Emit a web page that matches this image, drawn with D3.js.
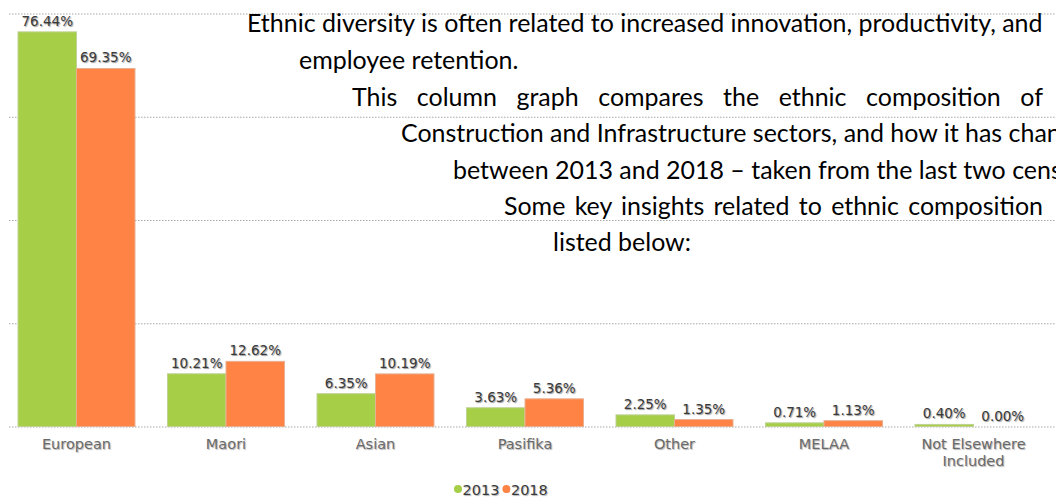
<!DOCTYPE html>
<html>
<head>
<meta charset="utf-8">
<script src="https://cdn.jsdelivr.net/npm/d3@7"></script>
<style>
  html, body { margin: 0; padding: 0; background: #fff; overflow: hidden; }
  svg { display: block; }
  .val { font-family: "DejaVu Sans", Verdana, sans-serif; font-size: 13.5px; fill: #3a3a3a; text-shadow: 1px 1px 1px rgba(0,0,0,0.4); }
  .cat { font-family: "DejaVu Sans", Verdana, sans-serif; font-size: 14.5px; fill: #6a6a6a; text-shadow: 1px 1px 1px rgba(0,0,0,0.3); }
  .leg { font-family: "DejaVu Sans", Verdana, sans-serif; font-size: 14.5px; fill: #3a3a3a; text-shadow: 1px 1px 1px rgba(0,0,0,0.3); }
  .note { font-family: Lato, "Open Sans", sans-serif; fill: #000; }
  .grid line { stroke: #a8a8a8; stroke-dasharray: 1.5 1.5; }
  .grid path { display: none; }
</style>
</head>
<body>
<svg id="chart" width="1056" height="500"></svg>
<script>
// Ethnic composition of the workforce, census 2013 vs 2018 (percent)
const categories = ["European", "Maori", "Asian", "Pasifika", "Other", "MELAA", "Not Elsewhere Included"];
const years = ["2013", "2018"];
const values2013 = [76.44, 10.21, 6.35, 3.63, 2.25, 0.71, 0.40];
const values2018 = [69.35, 12.62, 10.19, 5.36, 1.35, 1.13, 0.00];
const yTicks = [0, 20, 40, 60, 80];
const colors = ["#a6ce47", "#ff8344"];

const noteLines = [
  { text: "Ethnic diversity is often related to increased innovation, productivity, and", x: 247, y: 32 },
  { text: "employee retention.", x: 299, y: 69 },
  { text: "This column graph compares the ethnic composition of", x: 352, y: 106, justifyTo: 1043 },
  { text: "Construction and Infrastructure sectors, and how it has changed", x: 401, y: 142 },
  { text: "between 2013 and 2018 \u2013 taken from the last two census", x: 453, y: 179 },
  { text: "Some key insights related to ethnic composition", x: 504, y: 215, justifyTo: 1043 },
  { text: "listed below:", x: 553, y: 251 }
];

const svg = d3.select("#chart");

const x0 = d3.scaleBand()
  .domain(categories)
  .range([1.75, 1048.25])
  .paddingInner(0.2174)
  .paddingOuter(0.1087);

const x1 = d3.scaleBand()
  .domain(years)
  .range([0, x0.bandwidth()])
  .padding(0);

const y = d3.scaleLinear().domain([0, 80]).range([426.5, 13.5]);

// dotted horizontal gridlines
svg.append("g")
  .attr("class", "grid")
  .attr("transform", "translate(9,0)")
  .call(d3.axisLeft(y).tickValues(yTicks).tickSize(-1060).tickFormat(""))
  .call(g => g.selectAll(".tick text").remove());

const rows = categories.map((c, i) => ({ cat: c, vals: [values2013[i], values2018[i]] }));

const groups = svg.append("g").selectAll("g")
  .data(rows)
  .join("g")
  .attr("transform", d => `translate(${x0(d.cat)},0)`);

groups.selectAll("rect")
  .data(d => d.vals.map((v, k) => ({ v, k })))
  .join("rect")
  .attr("x", d => x1(years[d.k]))
  .attr("y", d => y(d.v))
  .attr("width", x1.bandwidth())
  .attr("height", d => y(0) - y(d.v))
  .attr("fill", d => colors[d.k])
  .attr("stroke", d => d3.interpolateRgb(colors[d.k], "#d4d4d4")(0.55))
  .attr("stroke-width", 1);

groups.selectAll("text.val")
  .data(d => d.vals.map((v, k) => ({ v, k })))
  .join("text")
  .attr("class", "val")
  .attr("x", d => x1(years[d.k]) + x1.bandwidth() / 2)
  .attr("y", d => y(d.v) - 6)
  .attr("text-anchor", "middle")
  .text(d => d.v.toFixed(2) + "%");

// category labels (wrapped where they are long)
const catLines = { "Not Elsewhere Included": ["Not Elsewhere", "Included"] };
groups.append("text")
  .attr("class", "cat")
  .attr("text-anchor", "middle")
  .attr("x", x0.bandwidth() / 2)
  .attr("y", 449)
  .selectAll("tspan")
  .data(d => catLines[d.cat] || [d.cat])
  .join("tspan")
  .attr("x", x0.bandwidth() / 2)
  .attr("dy", (d, i) => i === 0 ? 0 : 17)
  .text(d => d);

// legend
const legend = svg.append("g").attr("transform", "translate(454,0)");
const legItems = legend.selectAll("g").data(years).join("g");
let lx = 0;
legItems.each(function (d, i) {
  const g = d3.select(this);
  g.append("circle").attr("cx", lx + 4).attr("cy", 489).attr("r", 4).attr("fill", colors[i]);
  const t = g.append("text").attr("class", "leg").attr("x", lx + 8.5).attr("y", 495).text(d);
  lx += 8.5 + t.node().getComputedTextLength() + 3;
});

// explanatory note laid over the plot
const note = svg.append("g");
const probe = note.append("text").attr("class", "note").style("font-size", "20px").text(noteLines[0].text);
const fs = 20 * (1043 - 247) / probe.node().getComputedTextLength();
probe.remove();

noteLines.forEach(l => {
  const t = note.append("text")
    .attr("class", "note")
    .style("font-size", fs + "px")
    .attr("x", l.x)
    .attr("y", l.y)
    .text(l.text);
  if (l.justifyTo) {
    const w = t.node().getComputedTextLength();
    const gaps = l.text.split(" ").length - 1;
    const extra = (l.justifyTo - l.x - w) / gaps;
    t.style("word-spacing", extra + "px");
  }
});
</script>
</body>
</html>
